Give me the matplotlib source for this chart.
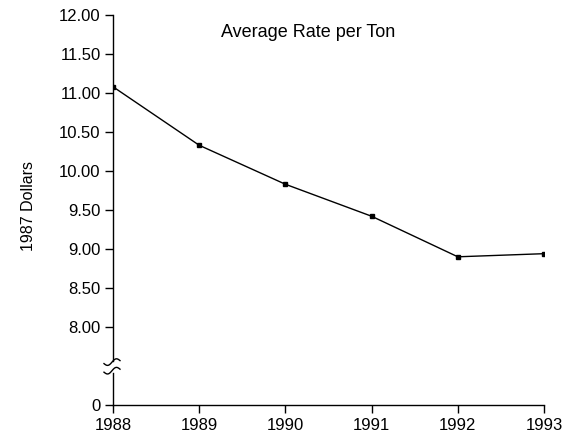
import numpy as np
import matplotlib.pyplot as plt

years = [1988, 1989, 1990, 1991, 1992, 1993]
rate = [11.08, 10.33, 9.83, 9.42, 8.90, 8.94]
ytick_vals = [7.0, 8.0, 8.5, 9.0, 9.5, 10.0, 10.5, 11.0, 11.5, 12.0]
ytick_labels = ["0", "8.00", "8.50", "9.00", "9.50", "10.00", "10.50", "11.00", "11.50", "12.00"]

plt.rcParams['font.family'] = ['Liberation Sans', 'DejaVu Sans']

fig = plt.figure(figsize=(5.74, 4.37), dpi=100)
ax = fig.add_axes([113/574, 1-405/437, 431/574, 390/437])

ax.plot(years, rate, color="black", lw=1.0, marker="s", ms=2.5)

ax.set_xlim(1988, 1993)
ax.set_ylim(7.0, 12.0)
ax.set_xticks(years)
ax.set_yticks(ytick_vals)
ax.set_yticklabels(ytick_labels)
ax.tick_params(axis="both", direction="out", length=6, width=1, labelsize=12, colors="black")
ax.tick_params(axis="x", pad=3)
ax.tick_params(axis="y", pad=3)

for s in ["top", "right", "left"]:
    ax.spines[s].set_visible(False)
ax.spines["bottom"].set_linewidth(1)

# broken y axis
ax.plot([0, 0], [0, 0.082], transform=ax.transAxes, color="black", lw=1, clip_on=False)
ax.plot([0, 0], [0.113, 1], transform=ax.transAxes, color="black", lw=1, clip_on=False)
t = np.linspace(-1, 1, 40)
sx = t * 8 / 431
sy = (2.5 * np.sin(t * np.pi) + 1.5 * t) / 390
for yc in [0.110, 0.088]:
    ax.plot(sx - 1/431, yc + sy, transform=ax.transAxes, color="black", lw=1, clip_on=False)

ax.text(0.453, 0.955, "Average Rate per Ton", transform=ax.transAxes,
        ha="center", va="center", fontsize=13)
ax.set_ylabel("1987 Dollars", fontsize=11.5)
ax.yaxis.set_label_coords(-0.178, 0.51)

fig.savefig("out.png", dpi=100)
